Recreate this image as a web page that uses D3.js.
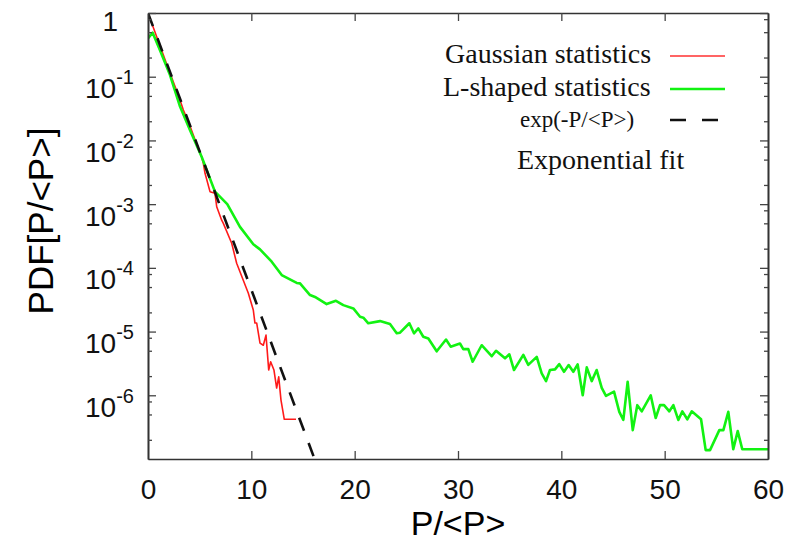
<!DOCTYPE html>
<html>
<head>
<meta charset="utf-8">
<script src="https://cdn.jsdelivr.net/npm/d3@7"></script>
<style>
  body { margin: 0; background: #fff; }
  svg { display: block; }
  .axis text { font-family: "Liberation Sans", Arial, sans-serif; fill: #111; }
  .legend text { font-family: "Liberation Serif", "Times New Roman", serif; fill: #111; }
</style>
</head>
<body>
<div id="chart"></div>
<script>

// Gaussian statistics (red)
var gaussX = [0, 1, 2, 3, 3.42, 4, 4.6, 5.2, 5.35, 5.52, 6.0, 6.48, 6.65, 7.13, 7.29, 8.1, 8.58, 9.22, 9.71,
  10.19, 10.35, 10.52, 10.84, 11.16, 11.42, 11.68, 11.87, 12.19, 12.45, 12.65, 12.87, 13.19, 14.32];
var gaussY = [1, 0.36, 0.13, 0.048, 0.03, 0.018, 0.0098, 0.0055, 0.0044, 0.00305, 0.00157, 0.00148, 9.1e-4,
  5.6e-4, 5.0e-4, 2.43e-4, 1.18e-4, 6.4e-5, 4.0e-5, 2.18e-5, 1.36e-5, 1.36e-5, 6.6e-6, 6.1e-6, 8.8e-6,
  2.49e-6, 3.36e-6, 2.49e-6, 1.3e-6, 1.95e-6, 8.4e-7, 4.2e-7, 4.2e-7];

// L-shaped statistics (green)
var lshapeX = [0, 0.45, 1.16, 2.13, 3.1, 4.06, 5.2, 6.48, 7.67, 8.9, 10.19, 10.84, 11.97, 12.94, 14.39, 14.71,
  15.68, 16.16, 17.29, 18.19, 18.9, 19.87, 20.52, 20.84, 21.32, 22.45, 23.42, 24.07, 24.39, 25.29, 25.74,
  26.16, 26.64, 27.13, 27.94, 28.84, 29.29, 30.19, 30.51, 31.0, 31.42, 32.29, 33.26, 33.68, 34.55, 34.97,
  35.42, 36.32, 36.8, 37.62, 38.1, 38.52, 38.9, 39.39, 39.8, 40.26, 40.71, 41.16, 41.58, 42.07, 42.46,
  42.94, 43.42, 43.91, 44.32, 45.1, 45.61, 46.0, 46.42, 46.91, 47.35, 47.78, 48.65, 49.13, 49.55, 49.94,
  50.45, 50.84, 51.32, 51.71, 52.19, 52.62, 53.52, 53.97, 54.39, 55.29, 55.68, 56.16, 56.64, 57.07, 57.51, 60];
var lshapeY = [0.40, 0.49, 0.26, 0.106, 0.034, 0.0146, 0.0055, 1.57e-3, 1.0e-3, 4.4e-4, 2.34e-4, 1.95e-4,
  1.25e-4, 7.7e-5, 5.8e-5, 5.7e-5, 3.74e-5, 3.5e-5, 2.7e-5, 3.04e-5, 2.6e-5, 2.31e-5, 1.71e-5, 1.65e-5,
  1.35e-5, 1.46e-5, 1.31e-5, 9.4e-6, 9.6e-6, 1.35e-5, 9.4e-6, 1.12e-5, 8.3e-6, 7.8e-6, 4.9e-6, 7.5e-6,
  5.8e-6, 6.5e-6, 5.3e-6, 5.3e-6, 3.36e-6, 6.1e-6, 4.1e-6, 5.0e-6, 3.8e-6, 4.4e-6, 2.49e-6, 4.3e-6,
  3.0e-6, 4.0e-6, 2.2e-6, 1.67e-6, 2.49e-6, 2.55e-6, 3.09e-6, 2.34e-6, 2.98e-6, 2.34e-6, 3.05e-6, 1.0e-6,
  2.74e-6, 1.67e-6, 2.49e-6, 1.31e-6, 9.8e-7, 1.14e-6, 5.5e-7, 4.1e-7, 1.63e-6, 2.84e-7, 7.0e-7, 5.6e-7,
  1.0e-6, 4.4e-7, 7.0e-7, 7.0e-7, 5.6e-7, 7.0e-7, 4.1e-7, 5.6e-7, 4.2e-7, 5.6e-7, 4.2e-7, 1.38e-7,
  1.38e-7, 2.84e-7, 2.84e-7, 5.5e-7, 1.42e-7, 2.74e-7, 1.42e-7, 1.42e-7];

// exponential fit exp(-P/<P>), end points
var fitX = [0, 16.12];
var fitY = [1, 1e-7];

var xTicks = [0, 10, 20, 30, 40, 50, 60];
var yExponents = [0, -1, -2, -3, -4, -5, -6];
var yMinorMant = [2, 5, 8];

var W = 797, H = 544;
var margin = {top: 13, right: 29, bottom: 85, left: 148};
var width = W - margin.left - margin.right;
var height = H - margin.top - margin.bottom;

var svg = d3.select('#chart').append('svg')
  .attr('width', W).attr('height', H);

var g = svg.append('g')
  .attr('transform', 'translate(' + margin.left + ',' + margin.top + ')');

var x = d3.scaleLinear().domain([0, 60]).range([0, width]);
var y = d3.scaleLog().domain([1e-7, 1]).range([height, 0]);

var yMajors = yExponents.map(function(e) { return Math.pow(10, e); });
var yMinors = [];
for (var k = -7; k < 0; k++) {
  yMinorMant.forEach(function(m) { yMinors.push(m * Math.pow(10, k)); });
}

g.append('clipPath').attr('id', 'clip')
  .append('rect').attr('width', width).attr('height', height);

// lines
var line = d3.line()
  .x(function(d) { return x(d[0]); })
  .y(function(d) { return y(d[1]); });

var plot = g.append('g').attr('clip-path', 'url(#clip)');

plot.append('path')
  .datum(d3.zip(gaussX, gaussY))
  .attr('d', line)
  .attr('fill', 'none')
  .attr('stroke', '#ff1a1a')
  .attr('stroke-width', 1.6)
  .attr('stroke-linejoin', 'round');

plot.append('path')
  .datum(d3.zip(lshapeX, lshapeY))
  .attr('d', line)
  .attr('fill', 'none')
  .attr('stroke', '#12f212')
  .attr('stroke-width', 2.6)
  .attr('stroke-linejoin', 'round');

plot.append('path')
  .datum(d3.zip(fitX, fitY))
  .attr('d', line)
  .attr('fill', 'none')
  .attr('stroke', '#111')
  .attr('stroke-width', 2.6)
  .attr('stroke-dasharray', '14,13');

// axes
function styleAxis(sel) {
  sel.select('.domain').attr('stroke', '#333').attr('stroke-width', 1.6);
  sel.selectAll('.tick line').attr('stroke', '#444').attr('stroke-width', 1.3);
}

var xAxis = g.append('g').attr('class', 'axis')
  .attr('transform', 'translate(0,' + height + ')')
  .call(d3.axisBottom(x).tickValues(xTicks).tickSizeInner(-8).tickSizeOuter(0).tickPadding(10))
  .call(styleAxis);
xAxis.selectAll('text')
  .attr('y', 40).attr('dy', null)
  .style('font-size', '28px');
xAxis.selectAll('.tick').filter(function(d) { return d === 0 || d === 60; }).select('line').remove();

g.append('g').attr('class', 'axis')
  .call(d3.axisTop(x).tickValues(xTicks.slice(1, -1)).tickSizeInner(-8).tickSizeOuter(0).tickFormat(''))
  .call(styleAxis);

var yAxis = g.append('g').attr('class', 'axis')
  .call(d3.axisLeft(y).tickValues(yMajors).tickSizeInner(-8).tickSizeOuter(0).tickPadding(14))
  .call(styleAxis);
yAxis.selectAll('.tick text').each(function(d, i) {
  var t = d3.select(this).text(null).attr('dy', null).style('font-size', '28px');
  var e = yExponents[i];
  if (e === 0) {
    t.attr('x', -30).attr('y', 17).text('1');
  } else {
    t.attr('y', 21);
    t.append('tspan').text('10');
    t.append('tspan').attr('dy', -14).style('font-size', '20px').text(String(e));
  }
});

g.append('g').attr('class', 'axis')
  .call(d3.axisLeft(y).tickValues(yMinors).tickSizeInner(-4).tickSizeOuter(0).tickFormat(''))
  .call(styleAxis);

g.append('g').attr('class', 'axis')
  .attr('transform', 'translate(' + width + ',0)')
  .call(d3.axisRight(y).tickValues(yMajors).tickSizeInner(-8).tickSizeOuter(0).tickFormat(''))
  .call(styleAxis);
g.append('g').attr('class', 'axis')
  .attr('transform', 'translate(' + width + ',0)')
  .call(d3.axisRight(y).tickValues(yMinors).tickSizeInner(-4).tickSizeOuter(0).tickFormat(''))
  .call(styleAxis);

// axis titles
svg.append('text')
  .attr('transform', 'translate(53,' + 221 + ') rotate(-90)')
  .attr('text-anchor', 'middle')
  .style('font-family', '"Liberation Sans", Arial, sans-serif')
  .style('font-size', '35px')
  .text('PDF[P/<P>]');

svg.append('text')
  .attr('x', margin.left + width / 2)
  .attr('y', 535)
  .attr('text-anchor', 'middle')
  .style('font-family', '"Liberation Sans", Arial, sans-serif')
  .style('font-size', '34px')
  .text('P/<P>');

// legend
var legend = svg.append('g').attr('class', 'legend');
legend.append('text').attr('x', 445).attr('y', 63).style('font-size', '28px').text('Gaussian statistics');
legend.append('line').attr('x1', 670).attr('x2', 725).attr('y1', 56).attr('y2', 56)
  .attr('stroke', '#ff6464').attr('stroke-width', 2);

legend.append('text').attr('x', 443).attr('y', 96).style('font-size', '28px').text('L-shaped statistics');
legend.append('line').attr('x1', 670).attr('x2', 725).attr('y1', 89).attr('y2', 89)
  .attr('stroke', '#12f212').attr('stroke-width', 2.6);

legend.append('text').attr('x', 520).attr('y', 127).style('font-size', '23px').text('exp(-P/<P>)');
legend.append('line').attr('x1', 670).attr('x2', 720).attr('y1', 120).attr('y2', 120)
  .attr('stroke', '#111').attr('stroke-width', 2.6).attr('stroke-dasharray', '16,16');

legend.append('text').attr('x', 517).attr('y', 169).style('font-size', '28px').text('Exponential fit');

</script>
</body>
</html>
